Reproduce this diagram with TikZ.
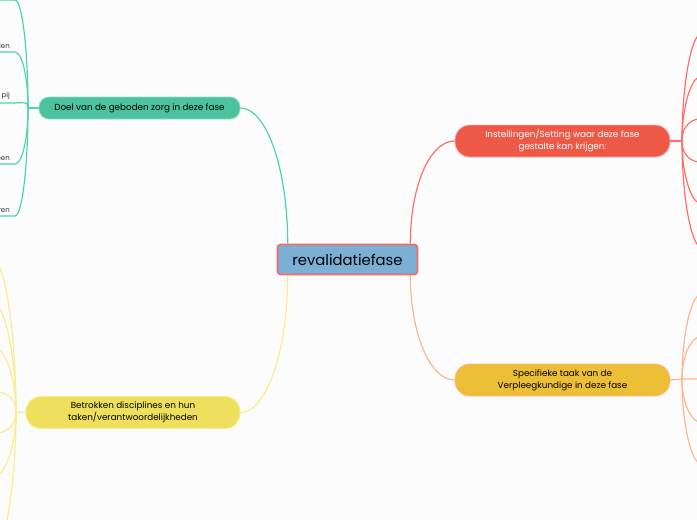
\documentclass[tikz,border=0pt]{standalone}
\usepackage{fontspec}
\setmainfont{Poppins}
\usetikzlibrary{positioning}
\definecolor{bgc}{HTML}{FCFCFC}
\definecolor{rootfill}{HTML}{7BAFD4}
\definecolor{rootline}{HTML}{F26B6B}
\definecolor{doelfill}{HTML}{4CC29E}
\definecolor{doelline}{HTML}{4DD6A6}
\definecolor{betfill}{HTML}{EEE05C}
\definecolor{betline}{HTML}{FBEC8C}
\definecolor{insfill}{HTML}{EE5847}
\definecolor{insline}{HTML}{FF6E6A}
\definecolor{spcfill}{HTML}{EDBF37}
\definecolor{spcline}{HTML}{FFB68C}
\tikzset{
  root/.style={draw=rootline, line width=1.6pt, fill=rootfill, rounded corners=3pt,
               minimum width=140pt, minimum height=30pt, inner sep=0pt,
               font=\fontsize{14.8}{17}\selectfont},
  topic/.style={rounded corners=15pt, minimum width=215pt, minimum height=32pt,
                inner sep=0pt, align=center, line width=0.8pt,
                font=\fontsize{8.8}{12}\selectfont},
  leaf/.style={anchor=south east, inner xsep=5pt, inner ysep=3pt,
               font=\fontsize{7}{9}\selectfont, text=black!80},
  ln/.style={line width=1.2pt},
  lu/.style={ln, out=90, in=0, out looseness=1.4, in distance=7pt},
  ld/.style={ln, out=-90, in=0, out looseness=1.4, in distance=7pt},
  ru/.style={ln, out=90, in=180, out looseness=1.4, in distance=8pt},
  rd/.style={ln, out=-90, in=180, out looseness=1.4, in distance=8pt}
}
\begin{document}
\begin{tikzpicture}[x=1pt,y=1pt]
\fill[bgc] (0,0) rectangle (697,-520);
\clip (0,0) rectangle (697,-520);
% centre
\node[root] (rv) at (347.5,-259.5) {revalidatiefase};
% main topics
\node[topic, fill=doelfill, draw=doelline!70, minimum width=201pt, minimum height=22pt,
      rounded corners=10pt] (doel) at (139.5,-108) {Doel van de geboden zorg in deze fase};
\node[topic, fill=betfill, draw=betline, minimum width=214pt] (bet) at (133,-412.5)
  {Betrokken disciplines en hun\\taken/verantwoordelijkheden};
\node[topic, fill=insfill, draw=insline!60, text=white] (ins) at (562.5,-141)
  {Instellingen/Setting waar deze fase\\gestalte kan krijgen:};
\node[topic, fill=spcfill, draw=spcline] (spc) at (562.5,-380)
  {Specifieke taak van de\\Verpleegkundige in deze fase};
\draw[ln, doelline] (doel.east) to[out=0, in=90, out distance=26pt, in distance=75pt]
  ([xshift=11pt]rv.north west);
\draw[ln, betline] (bet.east) to[out=0, in=-90, out distance=26pt, in distance=76pt]
  ([xshift=11pt]rv.south west);
\draw[ln, insline] ([xshift=-8pt]rv.north east) to[out=90, in=180, out distance=57pt, in distance=25pt]
  (ins.west);
\draw[ln, spcline] ([xshift=-8pt]rv.south east) to[out=-90, in=180, out distance=57pt, in distance=25pt]
  (spc.west);
% doel leaves
\coordinate (dj) at (28,-108);
\coordinate (d0) at (15,0);
\coordinate (d0w) at (-5,0);
\node[leaf] (d1) at (15,-52) {den};
\node[leaf] (d2) at (15,-103) {pij};
\node[leaf] (d3) at (15,-164) {een};
\node[leaf] (d4) at (15,-216) {ren};
\draw[doelline, ln] (doel.west) -- (dj);
\draw[doelline, lu] (dj) to (d0) -- (d0w);
\draw[doelline, lu] (dj) to (d1.south east) -- (d1.south west);
\draw[doelline, lu] (dj) to (d2.south east) -- (d2.south west);
\draw[doelline, ld] (dj) to (d3.south east) -- (d3.south west);
\draw[doelline, ld] (dj) to (d4.south east) -- (d4.south west);
% betrokken leaves
\coordinate (bj) at (16,-412);
\foreach \n/\y in {1/265,2/307,3/349,4/392} {
  \coordinate (b\n) at (-3,-\y);
  \draw[betline, lu] (bj) to (b\n);
}
\foreach \n/\y in {5/433,6/475,7/548} {
  \coordinate (b\n) at (-3,-\y);
  \draw[betline, ld] (bj) to (b\n);
}
\draw[betline, ln] (bet.west) -- (bj);
% instellingen leaves
\coordinate (ij) at (682,-141);
\foreach \n/\y in {1/35,2/77,3/119} {
  \coordinate (i\n) at (700,-\y);
  \draw[insline, ru] (ij) to (i\n);
}
\foreach \n/\y in {4/162,5/203,6/246} {
  \coordinate (i\n) at (700,-\y);
  \draw[insline, rd] (ij) to (i\n);
}
\draw[insline, ln] (ins.east) -- (ij);
% specifieke leaves
\coordinate (sj) at (682,-379);
\coordinate (s3) at (700,-379);
\foreach \n/\y in {1/295,2/337} {
  \coordinate (s\n) at (700,-\y);
  \draw[spcline, ru] (sj) to (s\n);
}
\foreach \n/\y in {4/422,5/463} {
  \coordinate (s\n) at (700,-\y);
  \draw[spcline, rd] (sj) to (s\n);
}
\draw[spcline, ln] (spc.east) -- (sj) -- (s3);
\end{tikzpicture}
\end{document}
